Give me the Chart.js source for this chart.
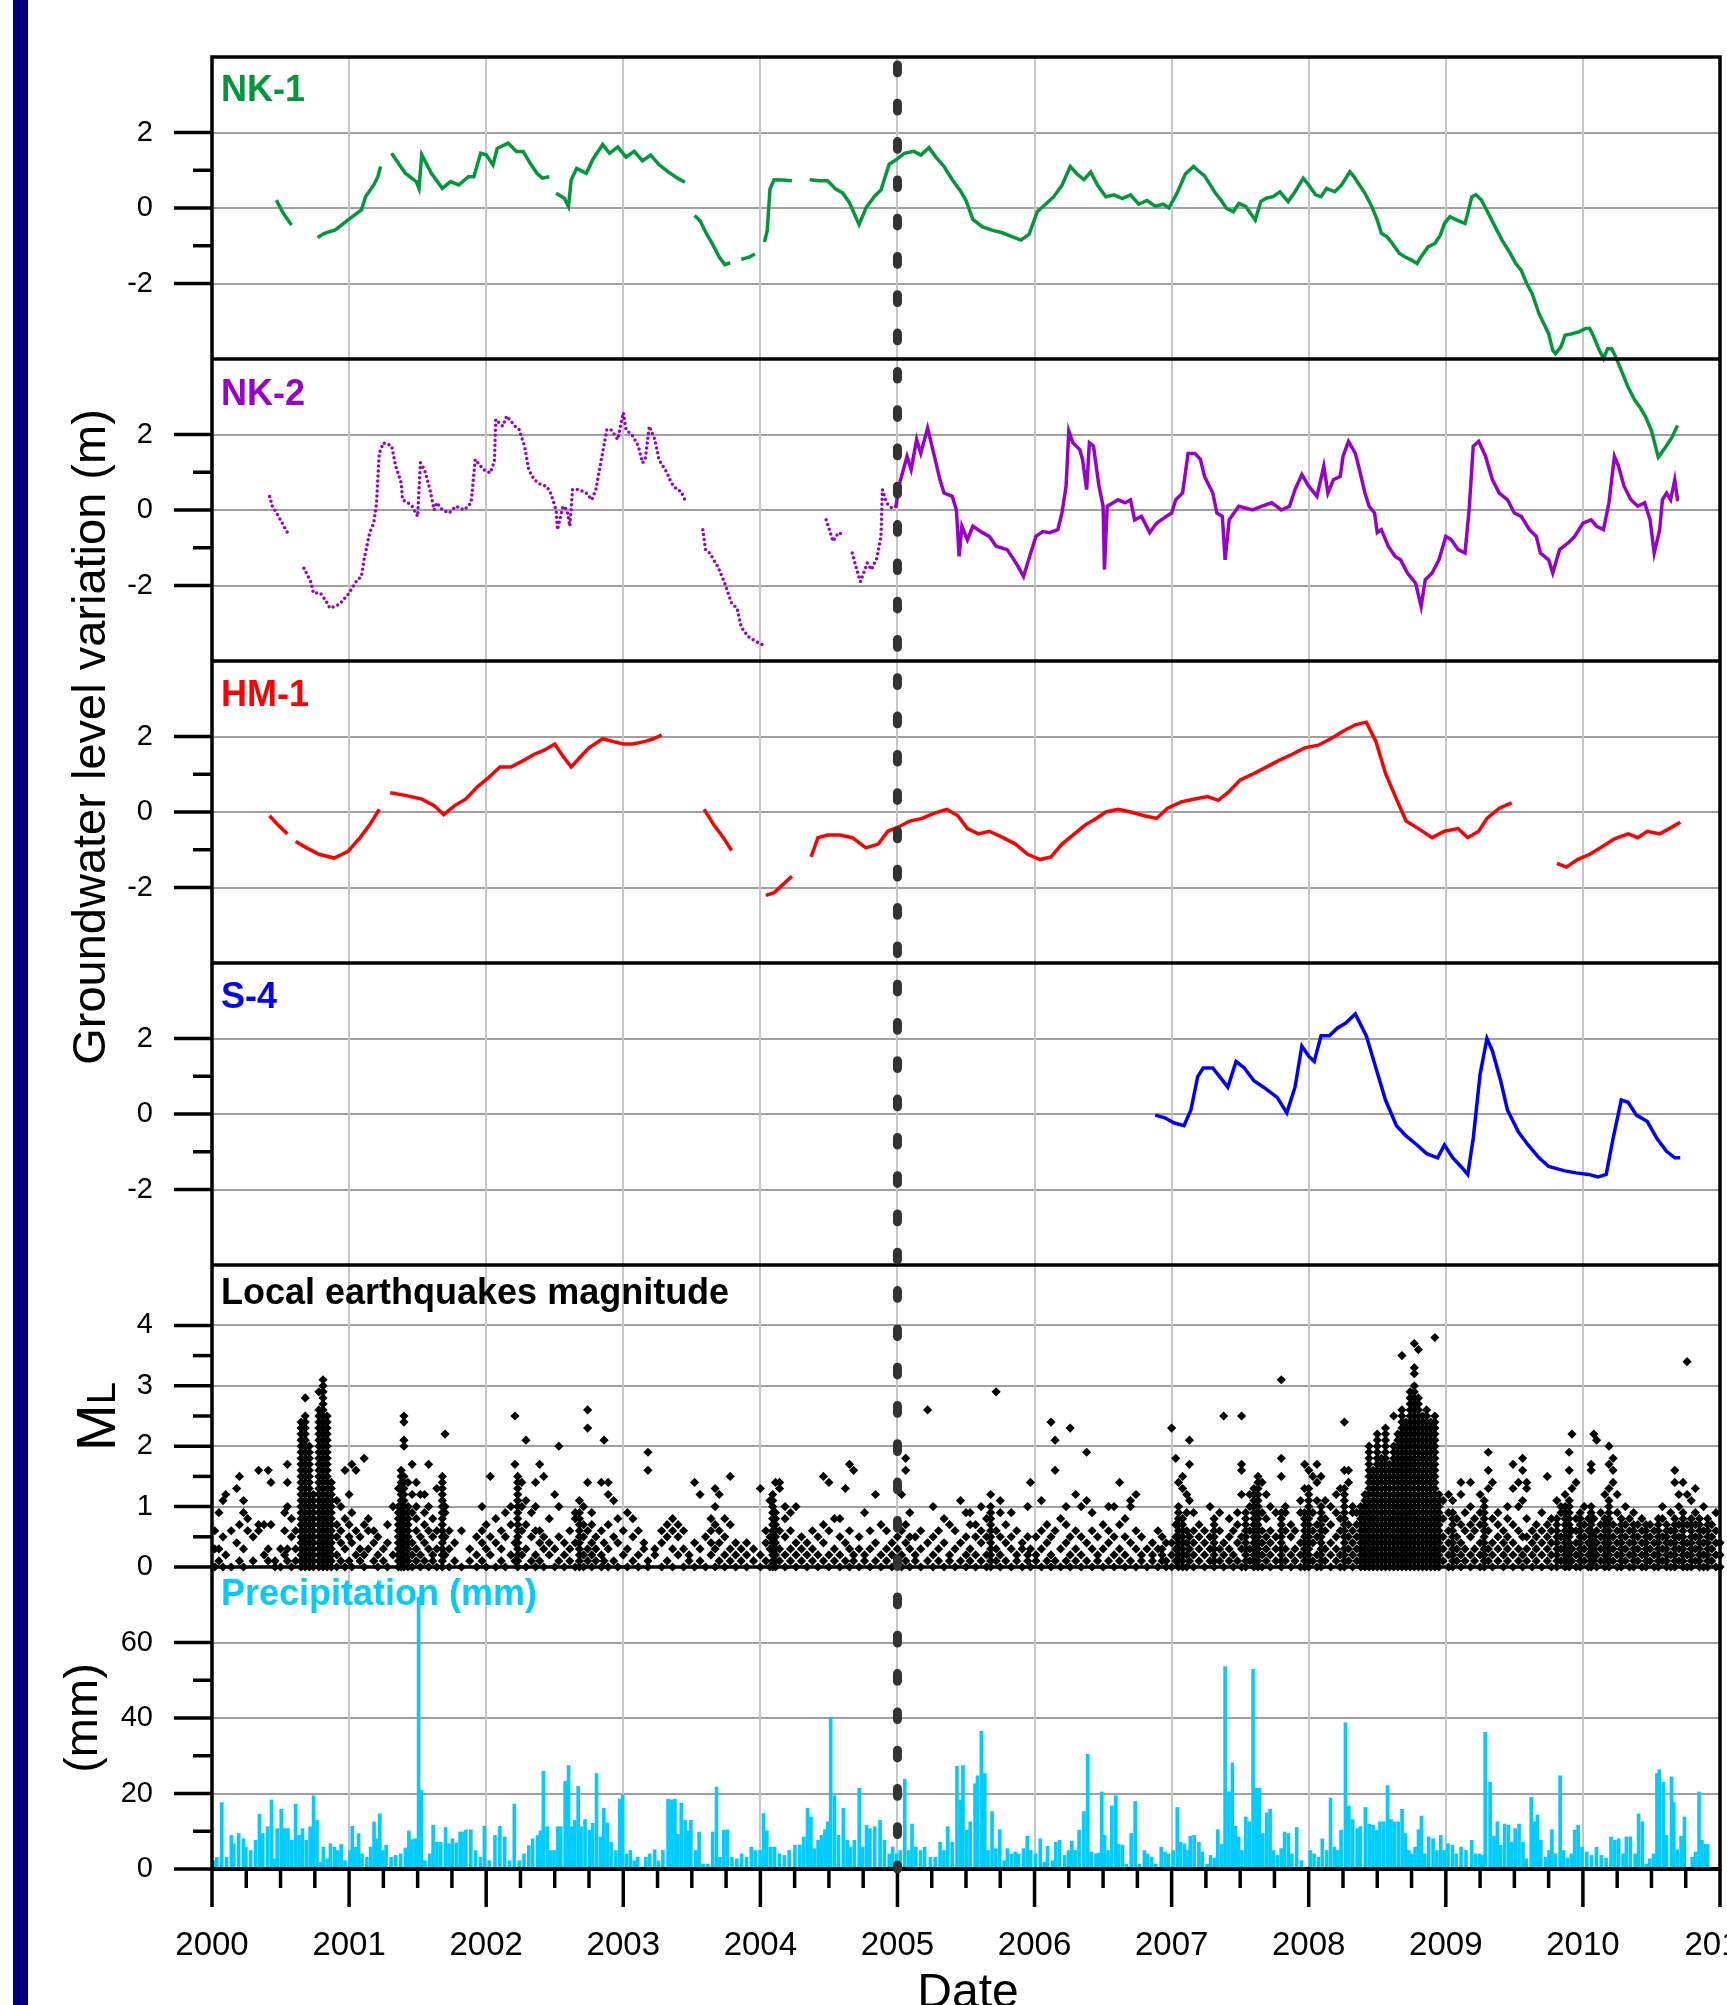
<!DOCTYPE html>
<html>
<head>
<meta charset="utf-8">
<script src="https://cdn.jsdelivr.net/npm/chart.js@4.4.1/dist/chart.umd.min.js"></script>
<style>
  html, body { margin: 0; padding: 0; background: #fff; }
</style>
</head>
<body>
<canvas id="wells" width="1727" height="2005"></canvas>
<script>
// ---- data (x = decimal year) ----
// groundwater level variation (m); null = gap in the record
const nk1 = [
  [2000.47,0.21],[2000.52,-0.14],[2000.58,-0.45],[2000.62,null],
  [2000.77,-0.78],[2000.82,-0.67],[2000.90,-0.58],[2000.99,-0.32],[2001.09,-0.05],[2001.12,0.3],[2001.18,0.61],[2001.21,0.83],[2001.23,1.1],[2001.27,null],
  [2001.31,1.45],[2001.41,0.92],[2001.49,0.7],[2001.51,0.52],[2001.53,1.41],[2001.60,0.92],[2001.68,0.52],[2001.74,0.7],[2001.80,0.61],[2001.87,0.83],[2001.91,0.83],[2001.96,1.45],[2002.00,1.41],[2002.05,1.14],[2002.08,1.58],[2002.16,1.72],[2002.22,1.5],[2002.27,1.5],[2002.32,1.19],[2002.37,0.92],[2002.41,0.79],[2002.46,0.83],[2002.48,null],
  [2002.51,0.39],[2002.57,0.26],[2002.60,0.04],[2002.62,0.74],[2002.66,1.05],[2002.73,0.92],[2002.78,1.3],[2002.85,1.68],[2002.90,1.45],[2002.96,1.62],[2003.02,1.35],[2003.08,1.5],[2003.14,1.25],[2003.20,1.4],[2003.26,1.15],[2003.33,0.95],[2003.40,0.78],[2003.45,0.68],[2003.48,null],
  [2003.52,-0.2],[2003.56,-0.34],[2003.61,-0.7],[2003.65,-0.95],[2003.70,-1.3],[2003.74,-1.5],[2003.78,-1.45],[2003.82,null],
  [2003.86,-1.36],[2003.92,-1.3],[2003.96,-1.22],[2003.99,null],
  [2004.03,-0.9],[2004.05,-0.6],[2004.07,0.5],[2004.10,0.75],[2004.16,0.74],[2004.23,0.72],[2004.26,null],
  [2004.36,0.75],[2004.43,0.72],[2004.49,0.72],[2004.55,0.5],[2004.60,0.4],[2004.65,0.14],[2004.72,-0.44],[2004.77,0.0],[2004.83,0.3],[2004.88,0.48],[2004.94,1.16],[2005.00,1.3],[2005.05,1.45],[2005.12,1.5],[2005.17,1.4],[2005.23,1.6],[2005.28,1.35],[2005.34,1.1],[2005.40,0.75],[2005.46,0.45],[2005.50,0.2],[2005.55,-0.3],[2005.62,-0.5],[2005.70,-0.6],[2005.76,-0.65],[2005.83,-0.75],[2005.90,-0.85],[2005.96,-0.7],
  [2006.02,-0.1],[2006.08,0.1],[2006.14,0.3],[2006.20,0.6],[2006.26,1.1],[2006.31,0.9],[2006.36,0.75],[2006.41,0.95],[2006.46,0.6],[2006.52,0.3],[2006.58,0.35],[2006.64,0.25],[2006.70,0.35],[2006.76,0.1],[2006.82,0.2],[2006.88,0.05],[2006.94,0.1],[2006.98,0.0],
  [2007.04,0.4],[2007.10,0.9],[2007.16,1.1],[2007.19,1.0],[2007.24,0.85],[2007.32,0.39],[2007.36,0.21],[2007.40,-0.01],[2007.45,-0.1],[2007.49,0.12],[2007.54,0.04],[2007.61,-0.32],[2007.65,0.17],[2007.69,0.26],[2007.74,0.3],[2007.79,0.43],[2007.85,0.17],[2007.90,0.43],[2007.96,0.79],
  [2008.00,0.61],[2008.05,0.35],[2008.09,0.3],[2008.13,0.52],[2008.19,0.43],[2008.24,0.61],[2008.30,0.96],[2008.33,0.83],[2008.37,0.61],[2008.41,0.39],[2008.46,0.04],[2008.50,-0.32],[2008.53,-0.67],[2008.57,-0.76],[2008.61,-0.94],[2008.66,-1.2],[2008.70,-1.29],[2008.75,-1.38],[2008.79,-1.47],[2008.82,-1.29],[2008.87,-1.03],[2008.92,-0.94],[2008.96,-0.72],[2008.99,-0.41],
  [2009.03,-0.23],[2009.08,-0.32],[2009.14,-0.41],[2009.16,-0.14],[2009.19,0.3],[2009.22,0.35],[2009.26,0.21],[2009.31,-0.14],[2009.36,-0.5],[2009.41,-0.85],[2009.47,-1.2],[2009.51,-1.47],[2009.55,-1.65],[2009.59,-2.0],[2009.63,-2.27],[2009.68,-2.8],[2009.75,-3.33],[2009.78,-3.77],[2009.80,-3.86],[2009.84,-3.68],[2009.87,-3.37],[2009.92,-3.33],[2009.97,-3.28],
  [2010.02,-3.19],[2010.05,-3.19],[2010.08,-3.42],[2010.12,-3.77],[2010.15,-3.99],[2010.18,-3.73],[2010.21,-3.73],[2010.24,-3.95],[2010.28,-4.3],[2010.33,-4.75],[2010.38,-5.1],[2010.42,-5.3],[2010.46,-5.55],[2010.50,-5.9],[2010.55,-6.6],[2010.60,-6.35],[2010.65,-6.07],[2010.69,-5.76]
];

const nk2 = [
  [2000.42,0.36],[2000.44,0.1],[2000.49,-0.2],[2000.55,-0.6],[2000.58,null],
  [2000.67,-1.54],[2000.72,-1.9],[2000.74,-2.2],[2000.79,-2.2],[2000.83,-2.4],[2000.86,-2.6],[2000.93,-2.5],[2001.00,-2.2],[2001.06,-1.85],[2001.09,-1.76],[2001.11,-1.3],[2001.15,-0.6],[2001.18,-0.35],[2001.20,0.19],[2001.22,1.5],[2001.25,1.78],[2001.31,1.7],[2001.34,1.16],[2001.38,0.72],[2001.39,0.27],[2001.43,0.19],[2001.46,0.1],[2001.50,-0.17],[2001.52,1.25],[2001.55,1.07],[2001.59,0.54],[2001.62,0.0],[2001.64,0.19],[2001.68,0.0],[2001.73,-0.08],[2001.78,0.1],[2001.84,0.0],[2001.89,0.19],[2001.92,1.34],[2001.98,1.07],
  [2002.03,0.98],[2002.06,1.29],[2002.07,2.4],[2002.12,2.22],[2002.15,2.49],[2002.21,2.22],[2002.24,2.13],[2002.28,1.69],[2002.31,1.07],[2002.35,0.8],[2002.40,0.67],[2002.44,0.63],[2002.47,0.45],[2002.51,0.0],[2002.52,-0.52],[2002.56,0.1],[2002.59,0.0],[2002.61,-0.43],[2002.63,0.54],[2002.68,0.54],[2002.73,0.45],[2002.77,0.27],[2002.80,0.54],[2002.84,1.34],[2002.88,2.13],[2002.91,2.13],[2002.96,1.87],
  [2003.00,2.58],[2003.02,2.13],[2003.07,1.96],[2003.11,1.69],[2003.14,1.25],[2003.16,1.34],[2003.19,2.22],[2003.23,1.87],[2003.26,1.34],[2003.32,0.98],[2003.35,0.72],[2003.39,0.54],[2003.42,0.5],[2003.46,0.19],[2003.50,null],
  [2003.58,-0.52],[2003.60,-1.05],[2003.63,-1.14],[2003.69,-1.5],[2003.74,-1.94],[2003.79,-2.47],[2003.83,-2.6],[2003.86,-3.1],[2003.91,-3.35],[2003.97,-3.49],[2004.02,-3.58],[2004.05,null],
  [2004.48,-0.26],[2004.51,-0.6],[2004.53,-0.83],[2004.57,-0.6],[2004.60,-0.65],[2004.63,null],
  [2004.67,-1.14],[2004.71,-1.67],[2004.73,-1.9],[2004.78,-1.4],[2004.81,-1.58],[2004.85,-1.27],[2004.88,-0.7],[2004.89,0.54],[2004.92,0.19],[2004.96,0.05],[2004.99,0.1],
  [2005.01,0.63],[2005.07,1.42],[2005.10,1.07],[2005.14,1.87],[2005.17,1.5],[2005.22,2.17],[2005.27,1.42],[2005.31,0.8],[2005.34,0.45],[2005.40,0.36],[2005.43,0.0],[2005.45,-1.23],[2005.47,-0.43],[2005.51,-0.79],[2005.55,-0.43],[2005.62,-0.6],[2005.67,-0.7],[2005.72,-0.96],[2005.80,-1.05],[2005.85,-1.32],[2005.88,-1.5],[2005.92,-1.76],[2005.95,-1.4],
  [2006.01,-0.7],[2006.06,-0.57],[2006.11,-0.6],[2006.17,-0.52],[2006.20,-0.08],[2006.23,0.63],[2006.25,2.09],[2006.28,1.78],[2006.33,1.6],[2006.35,1.34],[2006.38,0.54],[2006.40,1.78],[2006.43,1.69],[2006.47,0.63],[2006.50,0.1],[2006.51,-1.58],[2006.53,0.1],[2006.61,0.27],[2006.66,0.19],[2006.70,0.27],[2006.73,-0.26],[2006.78,-0.17],[2006.84,-0.6],[2006.89,-0.35],[2006.96,-0.17],
  [2007.00,-0.08],[2007.03,0.27],[2007.08,0.45],[2007.12,1.5],[2007.17,1.5],[2007.21,1.34],[2007.24,0.89],[2007.30,0.45],[2007.33,-0.08],[2007.37,-0.17],[2007.39,-1.32],[2007.42,-0.26],[2007.49,0.1],[2007.59,0.0],[2007.66,0.1],[2007.73,0.19],[2007.80,0.0],[2007.86,0.1],[2007.90,0.54],[2007.95,0.94],
  [2008.00,0.63],[2008.06,0.36],[2008.11,1.16],[2008.14,0.45],[2008.18,0.8],[2008.23,0.89],[2008.25,1.42],[2008.29,1.82],[2008.34,1.5],[2008.37,1.07],[2008.41,0.45],[2008.44,0.1],[2008.48,-0.08],[2008.50,-0.6],[2008.53,-0.52],[2008.58,-0.96],[2008.63,-1.23],[2008.67,-1.32],[2008.72,-1.67],[2008.78,-1.94],[2008.82,-2.56],[2008.85,-1.85],[2008.90,-1.67],[2008.95,-1.32],
  [2009.00,-0.7],[2009.04,-0.79],[2009.09,-1.05],[2009.14,-1.14],[2009.17,0.0],[2009.20,1.69],[2009.24,1.82],[2009.29,1.42],[2009.34,0.8],[2009.39,0.45],[2009.45,0.27],[2009.50,-0.08],[2009.55,-0.17],[2009.61,-0.52],[2009.66,-0.7],[2009.69,-1.14],[2009.75,-1.32],[2009.78,-1.67],[2009.83,-1.05],[2009.89,-0.88],[2009.94,-0.7],
  [2010.00,-0.35],[2010.06,-0.26],[2010.10,-0.43],[2010.15,-0.52],[2010.19,0.19],[2010.23,1.42],[2010.26,1.16],[2010.30,0.63],[2010.35,0.27],[2010.40,0.1],[2010.45,0.19],[2010.49,-0.26],[2010.52,-1.14],[2010.56,-0.52],[2010.58,0.27],[2010.61,0.45],[2010.64,0.27],[2010.67,0.8],[2010.69,0.27]
];

const hm1 = [
  [2000.42,-0.1],[2000.48,-0.34],[2000.55,-0.58],[2000.58,null],
  [2000.61,-0.78],[2000.69,-0.95],[2000.78,-1.12],[2000.89,-1.22],[2000.99,-1.05],[2001.08,-0.68],[2001.15,-0.34],[2001.22,0.07],[2001.26,null],
  [2001.30,0.51],[2001.41,0.44],[2001.53,0.34],[2001.62,0.17],[2001.69,-0.07],[2001.77,0.17],[2001.85,0.34],[2001.94,0.68],[2002.02,0.92],[2002.10,1.19],[2002.18,1.19],[2002.27,1.36],[2002.35,1.53],[2002.42,1.63],[2002.50,1.8],[2002.55,1.53],[2002.62,1.19],[2002.68,1.43],[2002.75,1.7],[2002.85,1.94],[2002.92,1.87],[2003.00,1.8],[2003.07,1.8],[2003.16,1.87],[2003.22,1.94],[2003.28,2.04],[2003.32,null],
  [2003.59,0.07],[2003.66,-0.34],[2003.73,-0.68],[2003.79,-1.02],[2003.85,null],
  [2004.04,-2.21],[2004.10,-2.14],[2004.15,-1.97],[2004.23,-1.7],[2004.28,null],
  [2004.37,-1.19],[2004.42,-0.68],[2004.49,-0.61],[2004.58,-0.61],[2004.67,-0.68],[2004.77,-0.95],[2004.86,-0.85],[2004.93,-0.51],[2005.00,-0.41],[2005.09,-0.24],[2005.18,-0.17],[2005.27,-0.03],[2005.36,0.07],[2005.44,-0.1],[2005.51,-0.44],[2005.59,-0.58],[2005.67,-0.51],[2005.77,-0.68],[2005.86,-0.85],[2005.95,-1.12],
  [2006.04,-1.26],[2006.12,-1.19],[2006.20,-0.85],[2006.28,-0.61],[2006.37,-0.34],[2006.45,-0.17],[2006.52,0.0],[2006.61,0.07],[2006.70,0.0],[2006.80,-0.1],[2006.89,-0.17],[2006.97,0.1],
  [2007.07,0.27],[2007.16,0.34],[2007.26,0.41],[2007.34,0.31],[2007.41,0.51],[2007.50,0.85],[2007.60,1.02],[2007.69,1.19],[2007.78,1.36],[2007.88,1.53],[2007.97,1.7],
  [2008.07,1.77],[2008.16,1.94],[2008.25,2.14],[2008.34,2.31],[2008.42,2.38],[2008.49,1.87],[2008.56,1.02],[2008.64,0.34],[2008.71,-0.24],[2008.80,-0.44],[2008.90,-0.68],[2008.99,-0.51],
  [2009.09,-0.44],[2009.16,-0.68],[2009.24,-0.51],[2009.30,-0.17],[2009.39,0.1],[2009.48,0.24],[2009.52,null],
  [2009.81,-1.36],[2009.88,-1.46],[2009.96,-1.26],[2010.05,-1.12],[2010.14,-0.92],[2010.23,-0.71],[2010.33,-0.58],[2010.40,-0.68],[2010.47,-0.51],[2010.56,-0.58],[2010.63,-0.44],[2010.71,-0.27]
];

const s4 = [
  [2006.88,-0.03],[2006.95,-0.1],[2007.02,-0.24],[2007.09,-0.31],[2007.14,0.1],[2007.19,0.99],[2007.23,1.22],[2007.30,1.22],[2007.35,0.99],[2007.41,0.71],[2007.47,1.39],[2007.53,1.22],[2007.60,0.88],[2007.67,0.71],[2007.77,0.44],[2007.84,0.03],[2007.90,0.71],[2007.95,1.8],
  [2008.00,1.53],[2008.04,1.39],[2008.09,2.07],[2008.15,2.07],[2008.21,2.28],[2008.27,2.41],[2008.34,2.65],[2008.42,2.07],[2008.49,1.22],[2008.56,0.37],[2008.64,-0.31],[2008.71,-0.58],[2008.79,-0.82],[2008.86,-1.05],[2008.94,-1.16],[2008.99,-0.82],
  [2009.05,-1.16],[2009.11,-1.39],[2009.16,-1.6],[2009.20,-0.65],[2009.25,1.05],[2009.30,2.0],[2009.34,1.67],[2009.40,0.88],[2009.45,0.1],[2009.53,-0.48],[2009.60,-0.82],[2009.68,-1.16],[2009.75,-1.39],[2009.86,-1.5],[2009.95,-1.56],
  [2010.04,-1.6],[2010.11,-1.67],[2010.17,-1.6],[2010.22,-0.65],[2010.28,0.37],[2010.33,0.31],[2010.39,-0.03],[2010.47,-0.2],[2010.54,-0.65],[2010.61,-0.99],[2010.67,-1.16],[2010.71,-1.16]
];

// local earthquakes: [year, magnitudes in tenths of ML ...]
const quakeColumns = [
  [2000.02,0,3,6],[2000.05,1,3,9],[2000.08,0,5,11],[2000.10,2,12],[2000.14,0,6],[2000.18,4,13],[2000.20,1,7,15],[2000.23,0,3,9,11],[2000.26,6,8],[2000.30,1,5],
  [2000.34,6,7,16],[2000.38,2,7],[2000.41,1,3,16],[2000.43,7,14],[2000.46,0,1],[2000.50,0,3],[2000.53,2,6,9],[2000.55,1,3,10,14,17],[2000.58,0,5,8],[2000.61,1,3,6],
  [2000.65,0,1,2,3,4,5,6,7,8,9,10,11,12,13,14,15,16,17,18,19,20,21,22,23,24],
  [2000.68,0,1,2,3,4,5,6,7,8,9,10,11,12,13,14,15,16,17,18,19,20,21,22,23,24,25,28],
  [2000.71,0,1,2,3,4,5,6,7,8,9,10,11,12,13,14,15,16,17,18,19,20],
  [2000.74,0,1,2,3,4,5,6,7,8,9,10,11,12],
  [2000.78,0,1,2,3,4,5,6,7,8,9,10,11,12,13,14,15,16,17,18,19,20,21,22,23,24,25,26,29],
  [2000.81,0,1,2,3,4,5,6,7,8,9,10,11,12,13,14,15,16,17,18,19,20,21,22,23,24,25,26,27,28,29,30,31],
  [2000.84,0,1,2,3,4,5,6,7,8,9,10,11,12,13,14,15,16,17,18,19,20,21,22,23,24,25],
  [2000.87,0,1,2,3,4,5,6,7,8,9,10,11,12,13,14],
  [2000.91,0,2,5,7,11],[2000.94,1,4,6,10],[2000.97,0,3,8,16],[2001.00,1,5,7,12],[2001.02,0,4,9,17],[2001.05,2,6,16],[2001.08,1,3,5],[2001.11,0,2,7,18],[2001.14,3,6,8],
  [2001.18,1,4,6],[2001.21,0,2,5],[2001.25,1,3],[2001.28,0,4,7],[2001.32,2,10],
  [2001.36,0,1,2,3,4,5,6,7,8,9,10,13],
  [2001.38,0,1,2,3,4,5,6,7,8,9,10,11,12,13,14,15,16],
  [2001.40,0,1,2,3,4,5,6,7,8,9,10,11,12,13,14,15,20,21,24,25],
  [2001.43,0,1,2,3,4,5,6,7,8,9,10,14],
  [2001.46,0,2,4,9,12,17],[2001.49,1,3,6,8,10,14],[2001.52,0,2,5,12],[2001.55,1,4,7,9,12],[2001.58,0,3,6,10,17],[2001.61,1,2,5,8],[2001.64,0,3,6,13],
  [2001.68,0,1,2,3,4,5,6,7,8,9,10,11,12,13,14,15],
  [2001.70,2,5,9,10,22],[2001.73,0,3,6],[2001.77,1,4],[2001.82,0,6],[2001.88,1,3],[2001.93,0,2,5],[2001.97,1,4,6,10],[2002.00,0,3,7],[2002.03,2,5,15],[2002.07,0,4,8],
  [2002.11,1,3,6],[2002.14,0,5,9],[2002.18,2,7,10],[2002.21,1,4,17,25],
  [2002.23,0,1,2,3,4,5,6,7,8,9,10,11,12,13,14,15],
  [2002.26,2,6,10,14],[2002.29,0,3,7,11,21],[2002.33,1,5,9],[2002.36,0,2,6,10,14],[2002.39,1,4,6,17],[2002.42,0,3,5,15],[2002.46,2,4,8],[2002.50,0,3,12],[2002.53,1,5,10,20],
  [2002.57,0,2,4],[2002.61,1,3,6],[2002.65,0,4,8,9],[2002.68,0,1,2,3,4,5,6,7,8,9,11],[2002.71,0,2,5,7,10],[2002.74,1,3,6,14,23,26],[2002.77,0,2,4,7,9],[2002.80,1,3,5],
  [2002.84,0,2,6,14],[2002.86,1,4,21],[2002.89,0,3,7,12,14],[2002.93,1,5,11],[2002.96,0,4,8],[2003.00,2,6],[2003.03,0,3,9],[2003.07,1,5,8],[2003.11,0,2,6],[2003.15,3,4],
  [2003.18,0,1,16,19],[2003.23,2,3],[2003.28,0,4,6],[2003.32,1,5,7],[2003.36,0,3,6,8],[2003.40,2,5,7],[2003.44,0,3,6],[2003.48,1,2],[2003.52,0,4,14],[2003.56,1,3,12],
  [2003.60,0,5],[2003.64,2,4,6,8],[2003.67,0,3,7,10,13],[2003.70,1,4,6,12],[2003.74,0,2,5,8],[2003.78,1,3,7,15],[2003.82,0,2,4],[2003.86,1,3],[2003.90,0,2,4],[2003.95,1,3],
  [2004.00,0,2,13],[2004.04,1,4,6],[2004.07,0,3,5,11],[2004.09,0,1,2,3,4,5,6,7,8,9,10,11,12],[2004.11,0,1,2,3,4,5,6,7,8,9,14],[2004.14,1,3,6,13,14],[2004.18,0,2,5,8,10],
  [2004.22,1,3,6,9],[2004.26,0,2,4,10],[2004.30,1,3,5],[2004.34,0,2,4],[2004.38,1,3,6],[2004.42,0,2,5],[2004.46,1,4,7,15],[2004.50,0,2,6,14],[2004.54,1,3,8],[2004.58,0,2,5,8],
  [2004.62,1,4,13],[2004.65,0,3,6,17],[2004.68,1,2,16],[2004.72,0,3,5],[2004.76,1,2,9],[2004.80,0,3,6],[2004.84,1,4,12],[2004.88,0,2,7],[2004.92,1,3,6],[2004.96,0,2,4],
  [2005.00,1,3,5],[2005.03,0,2,6,12],[2005.06,1,4,7,16,18],[2005.09,0,3,5,9],[2005.13,1,2,5],[2005.17,0,3,6],[2005.22,1,4,26],[2005.26,0,2,5,10],[2005.30,1,3,6],[2005.34,0,4,8],
  [2005.38,1,2,7],[2005.42,0,3,6],[2005.46,1,4,11],[2005.50,0,2,5,9],[2005.53,1,3,7,9],[2005.57,0,2,5,7],[2005.61,1,4,6,10],[2005.65,0,2,5,8],
  [2005.68,0,1,2,3,4,5,6,7,8,9,10,12],[2005.72,1,3,6,29],[2005.75,0,2,5,9,11],[2005.79,1,4,7],[2005.83,0,3,5,9],[2005.87,1,2,6],[2005.91,0,3,4],[2005.95,1,2,5,10],[2005.97,0,3,14],
  [2006.01,1,2,5],[2006.05,0,3,6,11],[2006.09,1,4,7],[2006.12,0,2,5,24],[2006.15,1,6,16,21],[2006.19,0,3,8],[2006.23,1,4,7,10],[2006.26,0,2,5,23],[2006.30,1,3,6,12],[2006.34,0,2,5,10],
  [2006.38,1,4,11,19],[2006.42,0,3,6,9],[2006.46,1,2,5],[2006.50,0,3,7],[2006.54,1,4,6,10],[2006.58,0,2,5,10],[2006.62,1,3,7,14],[2006.66,0,2,5,8],[2006.70,1,4,10,11],[2006.74,0,3,6,12],
  [2006.78,1,2,5],[2006.82,0,3],[2006.86,1,2,4],[2006.90,0,3,6],[2006.93,1,2,3,5],[2006.96,0,1,4],
  [2007.00,0,2,4,23],[2007.03,1,3,5,7,18],[2007.05,0,1,2,3,4,5,6,7,8,9,10,14],[2007.08,0,1,2,3,4,5,6,7,8,13,15],[2007.11,0,2,4,6,9,12],[2007.13,1,3,5,11,17,21],[2007.16,0,2,4,6,9],
  [2007.20,1,3,5,7],[2007.24,0,2,4,6],[2007.28,1,3,5,10],[2007.31,0,1,2,3,4,5,6,7,8],[2007.35,1,3,6,9],[2007.38,0,2,4,25],[2007.42,1,3,5,8],[2007.45,0,2,6],[2007.48,1,4,7,9],
  [2007.51,0,3,5,12,16,17,25],[2007.54,0,1,2,3,4,5,6,7,8,9],[2007.57,1,3,6,10,12],[2007.60,0,1,2,3,4,5,6,7,8,9,10,11,12,13],[2007.63,0,1,2,3,4,5,6,7,8,9,10,11,12,13,14,15],
  [2007.66,0,2,4,6,9,14],[2007.69,1,3,5,8,12],[2007.72,0,2,4,6,10],[2007.76,1,3,5,9],[2007.80,0,1,2,3,4,5,6,7,8,9,15,18,31],[2007.83,1,3,6,9,10],[2007.87,0,2,5,7],[2007.90,1,3,6],
  [2007.94,0,2,4,9,11],[2007.97,0,1,2,3,4,5,6,7,8,9,13,17],[2008.00,0,1,2,3,4,5,6,7,8,9,10,11,12,13,16],[2008.03,1,4,6,9,15],[2008.06,0,2,5,7,11,14,17],
  [2008.09,0,1,2,3,4,5,6,7,8,9,10,15],[2008.12,1,3,6,8,11],[2008.16,0,2,4,7,10],[2008.20,1,3,5,9,12],[2008.23,0,2,6,8,13],
  [2008.26,0,1,2,3,4,5,6,7,8,9,10,11,12,13,16,24],[2008.29,1,3,5,7,14,16],[2008.32,0,2,4,6,9,10],[2008.35,1,3,5,7,9],
  [2008.38,0,1,2,3,4,5,6,7,8,9,10],
  [2008.41,0,1,2,3,4,5,6,7,8,9,10,11,12],
  [2008.44,0,1,2,3,4,5,6,7,8,9,10,11,12,13,14,15,16,17,18,19,20],
  [2008.47,0,1,2,3,4,5,6,7,8,9,10,11,12,13,14,15,16],
  [2008.50,0,1,2,3,4,5,6,7,8,9,10,11,12,13,14,15,16,17,18,19,20,21,22],
  [2008.53,0,1,2,3,4,5,6,7,8,9,10,11,12,13,14,15,16,17,18],
  [2008.56,0,1,2,3,4,5,6,7,8,9,10,11,12,13,14,15,16,17,18,19,20,21,22,23],
  [2008.59,0,1,2,3,4,5,6,7,8,9,10,11,12,13,14,15,16,17],
  [2008.62,0,1,2,3,4,5,6,7,8,9,10,11,12,13,14,15,16,17,18,19,20,25],
  [2008.65,0,1,2,3,4,5,6,7,8,9,10,11,12,13,14,15,16,17,18,19,20,21,22],
  [2008.68,0,1,2,3,4,5,6,7,8,9,10,11,12,13,14,15,16,17,18,19,20,21,22,23,24,25,26,35],
  [2008.71,0,1,2,3,4,5,6,7,8,9,10,11,12,13,14,15,16,17,18,19,20,21,22,23,24],
  [2008.74,0,1,2,3,4,5,6,7,8,9,10,11,12,13,14,15,16,17,18,19,20,21,22,23,24,25,26,27,28,29],
  [2008.77,0,1,2,3,4,5,6,7,8,9,10,11,12,13,14,15,16,17,18,19,20,21,22,23,24,25,26,27,28,29,30,32,33,37],
  [2008.80,0,1,2,3,4,5,6,7,8,9,10,11,12,13,14,15,16,17,18,19,20,21,22,23,24,25,26,27,28,36],
  [2008.83,0,1,2,3,4,5,6,7,8,9,10,11,12,13,14,15,16,17,18,19,20,21,22,23,24,25],
  [2008.86,0,1,2,3,4,5,6,7,8,9,10,11,12,13,14,15,16,17,18,19,20,21,22,23,24,25,26],
  [2008.89,0,1,2,3,4,5,6,7,8,9,10,11,12,13,14,15,16,17,18,19,20,21,22,23,24],
  [2008.92,0,1,2,3,4,5,6,7,8,9,10,11,12,13,14,15,16,17,18,19,20,21,22,23,24,25,38],
  [2008.95,0,1,2,3,4,5,6,7,8,9,10,11,12],
  [2008.98,1,3,5,8,11],[2009.02,0,2,4,6,9,12],[2009.05,0,1,2,3,4,5,6,7,8,9,11],[2009.08,1,3,5,8],[2009.11,0,2,4,7,12,14],[2009.14,1,3,6,9],[2009.18,0,2,5,7,10,14],[2009.21,1,3,6,8],
  [2009.25,0,2,4,7,9,12],[2009.28,0,1,2,3,4,5,6,7,8,9,10,11],[2009.31,1,3,6,13,16,19],[2009.34,0,2,4,8,14],[2009.38,1,3,5,7,9],[2009.42,0,2,4,6],[2009.45,1,3,5,8,10],
  [2009.49,0,2,4,7,13,17],[2009.53,1,3,6,10,14],[2009.56,0,2,5,11,16,18],[2009.59,1,3,5,8,13,14],[2009.63,0,2,4,6],[2009.66,1,3,5,7],[2009.70,0,2,4,6,9],[2009.74,1,3,5,7,15],
  [2009.77,0,2,4,6,8],[2009.81,0,1,2,3,4,5,6,7,8,11],[2009.84,1,3,5,9,10],[2009.87,0,1,2,3,4,5,6,7,8,9,10,12],[2009.90,0,1,2,3,4,5,6,7,8,9,10,11,16,19],[2009.92,1,3,6,13,22],
  [2009.95,0,2,4,6,8,14],[2009.98,0,1,2,3,4,5,6,7,8,9],[2010.01,1,3,5,7,10],[2010.04,0,2,4,6,8],[2010.06,0,1,2,3,4,5,6,7,8,9,10,16,17],[2010.08,1,3,5,8,22],[2010.10,0,2,4,6,21],
  [2010.13,1,3,5,7,9],[2010.16,0,1,2,3,4,5,6,7,8,12],[2010.19,0,1,2,3,4,5,6,7,8,9,10,11,13,17,20],[2010.22,1,3,5,7,14,16,18],[2010.25,0,2,4,6,9,12],[2010.28,0,1,2,3,4,5,6,7,8],
  [2010.31,1,3,5,7,10],[2010.34,0,2,4,6,8],[2010.37,0,1,2,3,4,5,6,7,9],[2010.40,1,3,5,7],[2010.43,0,2,4,6,8],[2010.46,0,1,2,3,4,5,6,7],[2010.49,1,3,5,7],[2010.52,0,2,4,6],
  [2010.55,0,1,2,3,4,5,6,7,8],[2010.58,1,3,5,8,10],[2010.61,0,1,2,3,4,5,6,7],[2010.64,0,2,4,6,9],[2010.67,0,1,2,3,4,5,6,7,8,14,16],[2010.70,1,3,5,7,10,12],
  [2010.73,0,1,2,3,4,5,6,7,8,9,14],[2010.76,0,2,4,7,12,34],[2010.79,0,1,2,3,4,5,6,7,8,11],[2010.82,1,3,5,7,9,13],[2010.85,0,1,2,3,4,5,6,7,8],[2010.88,0,2,4,6,10],
  [2010.91,0,1,2,3,4,5,6,7,8],[2010.94,1,3,5,7],[2010.97,0,2,4,6,9],[2011.00,0,2,4]
];

// precipitation (mm): [year, mm]
const rain = [
  [2000.011,2.2],[2000.035,3.1],[2000.071,17.6],[2000.106,3.1],[2000.141,8.9],[2000.159,6.7],[2000.194,9.4],[2000.229,8],[2000.247,5.8],[2000.282,4.9],[2000.318,7.6],[2000.346,14.5],
  [2000.370,9.4],[2000.406,11.2],[2000.434,18.3],[2000.459,2.7],[2000.476,10.7],[2000.505,15.8],[2000.529,10.7],[2000.554,10.7],[2000.582,7.6],[2000.610,17.2],[2000.635,8.9],
  [2000.660,10.7],[2000.688,7.6],[2000.716,11.2],[2000.741,19.4],[2000.766,12.9],[2000.794,1.8],[2000.812,5.8],[2000.840,2.7],[2000.864,6.7],[2000.893,5.8],[2000.917,4.9],
  [2000.942,6.5],[2000.970,2.2],[2001.006,4.9],[2001.023,11.3],[2001.048,5.8],[2001.069,9.4],[2001.094,4],[2001.129,3.1],[2001.157,5.8],[2001.182,12.5],[2001.200,8],
  [2001.224,14.6],[2001.246,4.9],[2001.270,6.3],[2001.306,3.1],[2001.341,3.6],[2001.376,4],[2001.411,5.6],[2001.436,10.1],[2001.457,7.8],[2001.482,8],[2001.507,72],
  [2001.528,20.8],[2001.553,2.2],[2001.588,4],[2001.613,11.6],[2001.641,7.1],[2001.669,7.1],[2001.704,11],[2001.729,6.7],[2001.754,8],[2001.782,6.9],[2001.810,9.8],
  [2001.824,9.8],[2001.852,10.3],[2001.888,10.4],[2001.923,4.9],[2001.958,3.1],[2001.987,11.3],[2002.022,2.2],[2002.064,8.9],[2002.100,11.3],[2002.135,8.5],[2002.170,2.2],
  [2002.205,17.2],[2002.241,2.2],[2002.276,4],[2002.311,6.2],[2002.339,8],[2002.375,8.9],[2002.396,10.1],[2002.417,25.9],[2002.445,11.2],[2002.470,4.9],[2002.495,4.9],
  [2002.523,11.2],[2002.544,11.2],[2002.576,23.2],[2002.601,27.4],[2002.622,11.2],[2002.646,12.9],[2002.671,21.9],[2002.692,11.2],[2002.721,13.1],[2002.752,10.3],[2002.777,12.1],
  [2002.805,25.3],[2002.833,8.5],[2002.858,16.1],[2002.883,12.2],[2002.911,7.1],[2002.946,4.9],[2002.975,18.5],[2002.996,19.6],[2003.024,4],[2003.052,4.9],[2003.080,2.2],
  [2003.105,3.1],[2003.140,0.3],[2003.165,3.1],[2003.193,4],[2003.229,5.1],[2003.257,2.2],[2003.289,4.9],[2003.327,18.5],[2003.352,18.3],[2003.377,18.5],[2003.398,9.2],
  [2003.423,17.4],[2003.451,12.9],[2003.476,10.1],[2003.493,12.9],[2003.529,4.9],[2003.553,9.8],[2003.582,1.3],[2003.617,1.3],[2003.652,9.8],[2003.680,21.7],[2003.705,3.1],
  [2003.733,10.3],[2003.758,10.4],[2003.793,3.1],[2003.828,2.7],[2003.864,4],[2003.899,3.1],[2003.934,5.8],[2003.963,4.9],[2003.998,4.9],[2004.023,14.7],[2004.047,10.1],
  [2004.076,5.8],[2004.104,5.8],[2004.139,4],[2004.175,3.6],[2004.210,4.9],[2004.252,6.3],[2004.288,6.3],[2004.316,8.5],[2004.344,16.1],[2004.369,13.8],[2004.393,5.4],
  [2004.421,7.6],[2004.446,8.9],[2004.471,10.4],[2004.492,12.5],[2004.513,40.2],[2004.541,19.4],[2004.570,8.9],[2004.605,16.1],[2004.633,7.6],[2004.658,5.8],[2004.686,7.6],
  [2004.721,21.4],[2004.746,5.8],[2004.774,11.6],[2004.799,10.7],[2004.834,11.2],[2004.873,12.9],[2004.905,7.6],[2004.940,4],[2004.965,5.8],[2004.993,4],[2005.021,4.9],
  [2005.053,23.8],[2005.081,4.9],[2005.106,11.9],[2005.134,5.8],[2005.169,4.9],[2005.198,5.8],[2005.240,3.1],[2005.275,3.1],[2005.311,7.1],[2005.339,4.9],[2005.367,11.2],
  [2005.399,7.1],[2005.434,27.2],[2005.459,18.3],[2005.478,27.4],[2005.506,10.3],[2005.531,12.5],[2005.566,22.6],[2005.584,24.7],[2005.612,36.5],[2005.637,25.3],[2005.661,4.9],
  [2005.690,15.2],[2005.718,5.4],[2005.746,10.4],[2005.778,2.2],[2005.802,5.4],[2005.831,4],[2005.859,4.5],[2005.884,4],[2005.919,5.4],[2005.947,8.7],[2005.972,4.9],
  [2006.007,4],[2006.042,8],[2006.071,1.8],[2006.095,6],[2006.131,2.2],[2006.155,7.1],[2006.183,7.6],[2006.219,3.6],[2006.247,4.9],[2006.272,7.4],[2006.296,4.9],
  [2006.325,10.3],[2006.360,15.2],[2006.388,30.4],[2006.413,4.5],[2006.448,4],[2006.466,4.2],[2006.490,20.4],[2006.511,8.9],[2006.536,4.9],[2006.564,16.7],[2006.593,19.4],
  [2006.614,6.5],[2006.642,6.3],[2006.670,1.3],[2006.705,9.4],[2006.734,17.9],[2006.765,1.3],[2006.801,4.9],[2006.825,4],[2006.854,3.1],[2006.882,1.3],[2006.924,5.8],
  [2006.952,4.5],[2006.977,4],[2007.012,4.9],[2007.041,16.3],[2007.065,7.1],[2007.093,6.7],[2007.118,4.9],[2007.136,8.7],[2007.164,8.9],[2007.199,7.1],[2007.224,4.5],
  [2007.259,1.3],[2007.284,3.6],[2007.312,2.9],[2007.337,10.4],[2007.365,6.5],[2007.390,53.6],[2007.418,20.5],[2007.443,28.1],[2007.464,11.3],[2007.489,8.5],[2007.513,4.9],
  [2007.541,13.8],[2007.566,12.5],[2007.594,52.9],[2007.619,21.4],[2007.640,21.4],[2007.665,9.4],[2007.693,14.9],[2007.718,15.8],[2007.743,4.9],[2007.771,3.6],[2007.799,5.4],
  [2007.824,9.8],[2007.852,9.4],[2007.877,4],[2007.912,11],[2007.947,2.2],[2007.975,0.4],[2008.011,4.9],[2008.039,4],[2008.071,3.1],[2008.099,8],[2008.131,4.9],
  [2008.159,18.8],[2008.187,5.8],[2008.212,4.9],[2008.236,10.3],[2008.268,38.7],[2008.293,16.7],[2008.321,13.1],[2008.353,10.7],[2008.377,11.2],[2008.413,16.3],[2008.441,11.9],
  [2008.469,11.6],[2008.494,10.3],[2008.519,12.5],[2008.547,12.5],[2008.575,22.1],[2008.600,13.1],[2008.624,12.5],[2008.653,12.5],[2008.681,15.8],[2008.705,9.4],[2008.730,4.9],
  [2008.751,4],[2008.776,5.8],[2008.801,10.4],[2008.822,14],[2008.847,4],[2008.875,8.5],[2008.907,8],[2008.935,4.9],[2008.963,8.9],[2008.988,4.9],[2009.016,6.7],
  [2009.048,6.3],[2009.076,4],[2009.111,5.8],[2009.147,4.9],[2009.189,7.6],[2009.217,4],[2009.245,4],[2009.270,3.6],[2009.287,36.2],[2009.323,23],[2009.351,8.7],
  [2009.376,12.5],[2009.400,6.3],[2009.429,11.9],[2009.457,11.6],[2009.481,7.1],[2009.506,10.7],[2009.534,11.9],[2009.563,7.1],[2009.587,2.7],[2009.623,19],[2009.647,12.5],
  [2009.668,14.3],[2009.693,7.6],[2009.728,3.1],[2009.753,4.9],[2009.774,10.4],[2009.799,4],[2009.834,24.7],[2009.859,4.9],[2009.887,2.9],[2009.915,4],[2009.940,10.3],
  [2009.965,11.6],[2009.993,5.8],[2010.028,4.5],[2010.063,3.6],[2010.099,5.8],[2010.134,3.6],[2010.169,2.9],[2010.205,8.5],[2010.233,7.6],[2010.261,8],[2010.293,4],
  [2010.317,8.5],[2010.346,8.5],[2010.381,4],[2010.406,14.6],[2010.434,12.5],[2010.462,1.3],[2010.487,2.7],[2010.515,4],[2010.540,25.3],[2010.557,26.3],[2010.586,23],
  [2010.610,8.9],[2010.646,24.4],[2010.663,17.6],[2010.688,5.1],[2010.716,8.7],[2010.741,13.8],[2010.769,0.4],[2010.797,3.1],[2010.822,4.5],[2010.847,20.4],[2010.868,7.6],
  [2010.892,6.5],[2010.910,6.5]
];

// axis ticks and labels
const yearRange = [2000, 2011];
const eventYear = 2005;
const nk2DottedUntil = 2004.995;   // NK-2 record before this date is plotted as dots
const gwLabels = [-2, 0, 2];
const gwMinor = [-1, 1];
const mlLabels = [0, 1, 2, 3, 4];
const mlMinor = [0.5, 1.5, 2.5, 3.5];
const rainLabels = [0, 20, 40, 60];
const rainMinor = [10, 30, 50];

// ---- chart ----
Chart.defaults.font.family = '"Liberation Sans", Arial, sans-serif';
Chart.defaults.color = '#000';

const GRID_H = '#a0a0a0';
const GRID_V = '#c6c6c6';
const CLEAR = 'rgba(0,0,0,0)';
const colors = { nk1: '#00993a', nk2: '#9900cc', hm1: '#ff0000', s4: '#0000ff', rain: '#00ccff' };

const toXY = list => list.map(p => ({ x: p[0], y: p[1] }));
const quakes = [];
quakeColumns.forEach(col => col.slice(1).forEach(t => quakes.push({ x: col[0], y: t / 10 })));

const isIn = (list, v) => list.some(u => Math.abs(u - v) < 1e-6);

function panelAxis(min, max, step, labels) {
  return {
    type: 'linear', position: 'left', stack: 'panels', stackWeight: 1,
    min: min, max: max,
    ticks: {
      stepSize: step, padding: 59, font: { size: 29 }, autoSkip: false, maxTicksLimit: 100,
      callback: v => isIn(labels, v) ? String(v) : ''
    },
    grid: { display: false, drawTicks: false },
    border: { display: false },
    afterFit: s => { s.width = 212; s.paddingTop = 0; s.paddingBottom = 0; }
  };
}

function gwLine(data, color, yAxisID, clip) {
  return {
    type: 'line', data: toXY(data), yAxisID: yAxisID,
    borderColor: color, borderWidth: 3.5, pointRadius: 0,
    spanGaps: false, tension: 0, clip: clip
  };
}

const nk2Set = gwLine(nk2, colors.nk2, 'yNK2', 0);
nk2Set.borderCapStyle = 'round';
nk2Set.segment = { borderDash: ctx => ctx.p1.parsed.x < nk2DottedUntil ? [0, 5] : [] };

const panelText = [
  { axis: 'yNK1', text: 'NK-1', color: colors.nk1, dy: 44 },
  { axis: 'yNK2', text: 'NK-2', color: colors.nk2, dy: 46 },
  { axis: 'yHM1', text: 'HM-1', color: colors.hm1, dy: 45 },
  { axis: 'yS4', text: 'S-4', color: colors.s4, dy: 45 },
  { axis: 'yML', text: 'Local earthquakes magnitude', color: '#000', dy: 39 },
  { axis: 'yRain', text: 'Precipitation (mm)', color: colors.rain, dy: 38 }
];

const tickMarks = [
  ['yNK1', gwLabels, gwMinor], ['yNK2', gwLabels, gwMinor], ['yHM1', gwLabels, gwMinor], ['yS4', gwLabels, gwMinor],
  ['yML', mlLabels, mlMinor], ['yRain', rainLabels, rainMinor]
];

function seg(ctx, x1, y1, x2, y2) {
  ctx.beginPath(); ctx.moveTo(x1, y1); ctx.lineTo(x2, y2); ctx.stroke();
}

// horizontal grid lines of every panel, painted behind what is already drawn
const panelGrid = {
  id: 'panelGrid',
  afterDatasetsDraw(chart) {
    const { ctx, chartArea: a, scales } = chart;
    ctx.save();
    ctx.globalCompositeOperation = 'destination-over';
    ctx.strokeStyle = GRID_H;
    ctx.lineWidth = 2;
    tickMarks.forEach(([id, major]) => {
      const s = scales[id];
      major.forEach(v => {
        if (v <= s.min || v >= s.max) return;
        const y = Math.round(s.getPixelForValue(v));
        seg(ctx, a.left, y, a.right, y);
      });
    });
    ctx.restore();
  }
};

const decorations = {
  id: 'decorations',
  afterDraw(chart) {
    const { ctx, chartArea: a, scales } = chart;
    ctx.save();

    // navy bar at the left edge
    ctx.fillStyle = '#00007f';
    ctx.fillRect(13, 0, 15, chart.height);

    // y tick marks
    ctx.strokeStyle = '#000';
    ctx.lineWidth = 3.5;
    tickMarks.forEach(([id, major, minor]) => {
      const s = scales[id];
      s.ticks.forEach(t => {
        const y = s.getPixelForValue(t.value);
        if (isIn(major, t.value)) seg(ctx, a.left - 38, y, a.left, y);
        else if (isIn(minor, t.value)) seg(ctx, a.left - 19, y, a.left, y);
      });
    });

    // x tick marks (years long, quarters short)
    const xs = scales.x;
    xs.ticks.forEach(t => {
      const x = xs.getPixelForValue(t.value);
      const len = Number.isInteger(t.value) ? 38 : 19;
      seg(ctx, x, a.bottom, x, a.bottom + len);
    });

    // panel frames
    ctx.lineWidth = 3.5;
    ctx.strokeRect(a.left, a.top, a.right - a.left, a.bottom - a.top);
    ['yNK2', 'yHM1', 'yS4', 'yML', 'yRain'].forEach(id => seg(ctx, a.left, scales[id].top, a.right, scales[id].top));
    ctx.lineWidth = 4;
    seg(ctx, a.left, scales.yRain.bottom, a.right, scales.yRain.bottom);

    // dashed event line
    const ex = xs.getPixelForValue(eventYear);
    ctx.strokeStyle = '#333333';
    ctx.lineWidth = 9;
    ctx.lineCap = 'round';
    ctx.setLineDash([7.7, 30.6]);
    ctx.lineDashOffset = -8;
    seg(ctx, ex, a.top, ex, a.bottom);
    ctx.setLineDash([]);
    ctx.lineCap = 'butt';

    // panel labels
    ctx.font = 'bold 36px "Liberation Sans", Arial, sans-serif';
    ctx.textAlign = 'left';
    ctx.textBaseline = 'alphabetic';
    panelText.forEach(p => {
      ctx.fillStyle = p.color;
      ctx.fillText(p.text, a.left + 9, scales[p.axis].top + p.dy);
    });

    // axis titles
    ctx.fillStyle = '#000';
    ctx.font = '47px "Liberation Sans", Arial, sans-serif';
    ctx.save();
    ctx.translate(105, 737);
    ctx.rotate(-Math.PI / 2);
    ctx.textAlign = 'center';
    ctx.fillText('Groundwater level variation (m)', 0, 0);
    ctx.restore();

    ctx.save();
    ctx.translate(97, 1718);
    ctx.rotate(-Math.PI / 2);
    ctx.textAlign = 'center';
    ctx.fillText('(mm)', 0, 0);
    ctx.restore();

    ctx.save();
    ctx.translate(115, 1451);
    ctx.rotate(-Math.PI / 2);
    ctx.textAlign = 'left';
    ctx.font = '56px "Liberation Sans", Arial, sans-serif';
    ctx.fillText('M', 0, 0);
    const mw = ctx.measureText('M').width;
    ctx.font = '40px "Liberation Sans", Arial, sans-serif';
    ctx.fillText('L', mw, 0);
    ctx.restore();

    ctx.font = '48px "Liberation Sans", Arial, sans-serif';
    ctx.textAlign = 'center';
    ctx.fillText('Date', (a.left + a.right) / 2 + 2, 2007);

    ctx.restore();
  }
};

new Chart(document.getElementById('wells'), {
  type: 'line',
  data: {
    datasets: [
      { type: 'bar', data: toXY(rain), yAxisID: 'yRain', backgroundColor: colors.rain, borderWidth: 0, barThickness: 3, grouped: false },
      { type: 'scatter', data: quakes, yAxisID: 'yML', showLine: false, pointStyle: 'rectRot', pointRadius: 4.6,
        backgroundColor: '#000', borderColor: '#000', borderWidth: 0, clip: 8 },
      gwLine(s4, colors.s4, 'yS4', 0),
      gwLine(hm1, colors.hm1, 'yHM1', 0),
      nk2Set,
      gwLine(nk1, colors.nk1, 'yNK1', false)
    ]
  },
  options: {
    responsive: false,
    animation: false,
    devicePixelRatio: 1,
    events: [],
    layout: { padding: { top: 57, right: 7, left: 0, bottom: 0 }, autoPadding: false },
    plugins: { legend: { display: false }, tooltip: { enabled: false } },
    scales: {
      yRain: panelAxis(0, 80, 10, rainLabels),
      yML: panelAxis(0, 5, 0.5, mlLabels),
      yS4: panelAxis(-4, 4, 1, gwLabels),
      yHM1: panelAxis(-4, 4, 1, gwLabels),
      yNK2: panelAxis(-4, 4, 1, gwLabels),
      yNK1: panelAxis(-4, 4, 1, gwLabels),
      x: {
        type: 'linear', position: 'bottom', min: yearRange[0], max: yearRange[1], offset: false,
        ticks: {
          stepSize: 0.25, autoSkip: false, maxRotation: 0, maxTicksLimit: 100, padding: 57, font: { size: 33 },
          callback: v => Number.isInteger(v) ? String(v) : ''
        },
        grid: { offset: false, drawTicks: false, lineWidth: 2, color: c => Number.isInteger(c.tick.value) ? GRID_V : CLEAR },
        border: { display: false },
        afterFit: s => { s.height = 136; s.paddingLeft = 0; s.paddingRight = 0; }
      }
    }
  },
  plugins: [panelGrid, decorations]
});
</script>
</body>
</html>
